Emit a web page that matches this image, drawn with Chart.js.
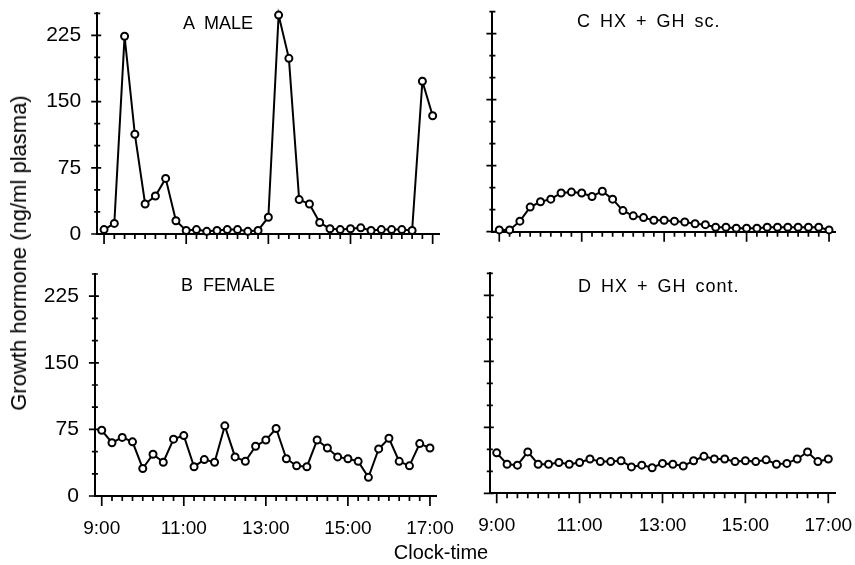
<!DOCTYPE html>
<html lang="en">
<head>
<meta charset="UTF-8">
<title>Growth hormone profiles</title>
<style>
  body { margin: 0; background: #fff; }
  #wrap { position: relative; width: 855px; height: 565px; font-family: "Liberation Sans", Arial, sans-serif; color: #000; }
  #wrap canvas { position: absolute; }
  .lbl { position: absolute; white-space: pre; line-height: 1; }
</style>
</head>
<body>
<div id="wrap">
  <canvas id="chartA" width="460" height="250" style="left:0;top:0"></canvas>
  <canvas id="chartB" width="470" height="311" style="left:0;top:254px"></canvas>
  <canvas id="chartC" width="390" height="250" style="left:465px;top:0"></canvas>
  <canvas id="chartD" width="390" height="311" style="left:465px;top:254px"></canvas>

  <div class="lbl" style="left:183px;top:14px;font-size:18px">A  MALE</div>
  <div class="lbl" style="left:181px;top:276px;font-size:18px">B  FEMALE</div>
  <div class="lbl" style="left:577px;top:12px;font-size:18px;letter-spacing:1px;word-spacing:3px">C HX + GH sc.</div>
  <div class="lbl" style="left:578px;top:277px;font-size:18px;letter-spacing:1px;word-spacing:3px">D HX + GH cont.</div>
  <div class="lbl" style="left:19px;top:253px;font-size:22px;transform:translate(-50%,-50%) rotate(-90deg)">Growth hormone (ng/ml plasma)</div>
  <div class="lbl" style="left:441px;top:552px;font-size:20px;transform:translate(-50%,-50%)">Clock-time</div>
</div>

<script src="https://cdn.jsdelivr.net/npm/chart.js"></script>
<script>
    // sampling times in minutes after midnight (every 15 min, 9:00 - 17:00)
    const sampleTimes = [540, 555, 570, 585, 600, 615, 630, 645, 660, 675, 690, 705, 720, 735, 750, 765,
                         780, 795, 810, 825, 840, 855, 870, 885, 900, 915, 930, 945, 960, 975, 990, 1005, 1020];

    // GH values, ng/ml plasma
    const maleGH = [5, 12, 224, 113, 34, 43, 63, 15, 4, 5, 3, 4, 5, 5, 3, 4, 19, 248, 199, 39,
                    34, 13, 6, 5, 6, 7, 4, 5, 5, 5, 4, 173, 134];
    const femaleGH = [74, 60, 66, 61, 31, 47, 38, 64, 68, 33, 41, 38, 79, 44, 39, 56, 63, 76, 42, 34,
                      33, 63, 54, 44, 42, 39, 21, 53, 65, 39, 34, 59, 54];
    const scGH = [2, 2, 12, 28, 34, 37, 44, 45, 44, 40, 46, 37, 24, 18, 16, 13, 13, 12, 11, 9,
                  8, 5, 5, 4, 4, 4, 5, 5, 5, 5, 5, 5, 2];
    const contGH = [46, 33, 32, 47, 33, 33, 35, 33, 35, 39, 36, 36, 37, 30, 32, 29, 34, 33, 31, 37,
                    42, 39, 39, 36, 37, 36, 38, 33, 34, 39, 47, 36, 39];

    const xTickValues = [540, 660, 780, 900, 1020];
    const yTickValues = [0, 75, 150, 225];
    const yMinorValues = [0, 25, 50, 75, 100, 125, 150, 175, 200, 225, 250];

    const fontFamily = '"Liberation Sans", Arial, sans-serif';

    // small tick marks like the printed figure (major ticks longer)
    const tickMarks = {
        id: 'tickMarks',
        beforeDatasetsDraw(chart) {
            const ctx = chart.ctx;
            const xs = chart.scales.x, ys = chart.scales.y;
            const left = chart.chartArea.left, bottom = chart.chartArea.bottom;
            ctx.save();
            ctx.strokeStyle = '#000';
            ctx.lineWidth = 1.7;
            ctx.beginPath();
            yMinorValues.forEach(v => {
                const py = ys.getPixelForValue(v);
                const major = yTickValues.includes(v);
                ctx.moveTo(left - (major ? 6 : 3), py);
                ctx.lineTo(left + (major ? 4 : 3), py);
            });
            sampleTimes.forEach(t => {
                const px = xs.getPixelForValue(t);
                const major = xTickValues.includes(t);
                ctx.moveTo(px, bottom);
                ctx.lineTo(px, bottom + (major ? 10 : 5));
            });
            ctx.stroke();
            ctx.restore();
        }
    };

    function makePanel(id, values, box) {
        new Chart(document.getElementById(id), {
            type: 'line',
            data: {
                datasets: [{
                    data: sampleTimes.map((t, i) => ({ x: t, y: values[i] })),
                    borderColor: '#000',
                    borderWidth: 2,
                    pointRadius: 3.5,
                    pointBorderWidth: 2,
                    pointBackgroundColor: '#fff',
                    pointBorderColor: '#000',
                    tension: 0,
                    clip: false
                }]
            },
            options: {
                responsive: false,
                animation: false,
                events: [],
                layout: { padding: { top: box.padTop, right: box.padRight, bottom: 0, left: 0 } },
                plugins: { legend: { display: false }, tooltip: { enabled: false } },
                scales: {
                    x: {
                        type: 'linear',
                        min: 530,
                        max: 1030,
                        grid: { display: false, drawTicks: false },
                        border: { display: true, color: '#000', width: 2 },
                        afterBuildTicks: s => { s.ticks = xTickValues.map(v => ({ value: v })); },
                        afterFit: s => { s.height = box.xh; s.paddingLeft = 0; s.paddingRight = 0; },
                        ticks: {
                            display: box.xLabels,
                            autoSkip: false,
                            maxRotation: 0,
                            padding: 21,
                            color: '#000',
                            font: { family: fontFamily, size: 19 },
                            callback: v => (v / 60) + ':00'
                        }
                    },
                    y: {
                        min: 0,
                        max: 250,
                        grid: { display: false, drawTicks: false },
                        border: { display: true, color: '#000', width: 2 },
                        afterBuildTicks: s => { s.ticks = yTickValues.map(v => ({ value: v })); },
                        afterFit: s => { s.width = box.yw; s.paddingTop = 0; s.paddingBottom = 0; },
                        ticks: {
                            display: box.yLabels,
                            padding: 16,
                            color: '#000',
                            font: { family: fontFamily, size: 21 }
                        }
                    }
                }
            },
            plugins: [tickMarks]
        });
    }

    makePanel('chartA', maleGH,   { padTop: 13.3, padRight: 20.5, yw: 97.2, xh: 16,   xLabels: false, yLabels: true });
    makePanel('chartB', femaleGH, { padTop: 20,   padRight: 33.2, yw: 94.9, xh: 69,   xLabels: true,  yLabels: true });
    makePanel('chartC', scGH,     { padTop: 11.7, padRight: 19.1, yw: 27.4, xh: 18.3, xLabels: false, yLabels: false });
    makePanel('chartD', contGH,   { padTop: 19.3, padRight: 19.8, yw: 24.8, xh: 71.7, xLabels: true,  yLabels: false });
</script>
</body>
</html>
